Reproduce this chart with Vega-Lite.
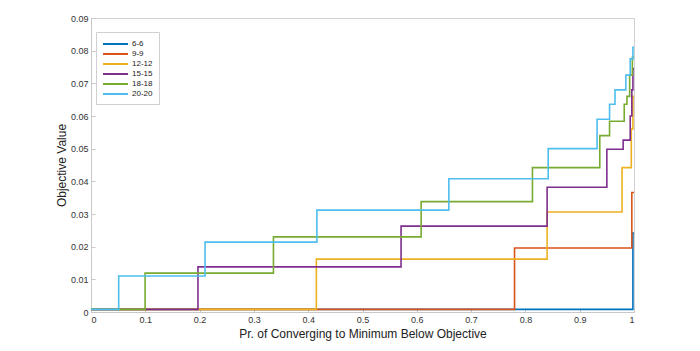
{
  "$schema": "https://vega.github.io/schema/vega-lite/v6.json",
  "width": 543,
  "height": 294,
  "autosize": {"type": "none"},
  "padding": {"left": 91, "top": 18, "right": 66, "bottom": 39},
  "background": "white",
  "config": {
    "view": {"stroke": "#d0d0d0", "strokeWidth": 1},
    "font": "Liberation Sans"
  },
  "data": {
    "values": [
      {"s": "6-6", "x": 0, "y": 0.0008},
      {"s": "6-6", "x": 0.998, "y": 0.0242},
      {"s": "6-6", "x": 1, "y": 0.0242},
      {"s": "9-9", "x": 0, "y": 0.0008},
      {"s": "9-9", "x": 0.78, "y": 0.0196},
      {"s": "9-9", "x": 0.996, "y": 0.0366},
      {"s": "9-9", "x": 1, "y": 0.0366},
      {"s": "12-12", "x": 0, "y": 0.0008},
      {"s": "12-12", "x": 0.415, "y": 0.0162},
      {"s": "12-12", "x": 0.84, "y": 0.0306},
      {"s": "12-12", "x": 0.978, "y": 0.0442},
      {"s": "12-12", "x": 0.995, "y": 0.056},
      {"s": "12-12", "x": 0.998, "y": 0.066},
      {"s": "12-12", "x": 1, "y": 0.066},
      {"s": "15-15", "x": 0, "y": 0.0008},
      {"s": "15-15", "x": 0.197, "y": 0.0138},
      {"s": "15-15", "x": 0.571, "y": 0.0263},
      {"s": "15-15", "x": 0.84, "y": 0.0382},
      {"s": "15-15", "x": 0.95, "y": 0.0498},
      {"s": "15-15", "x": 0.98, "y": 0.0526},
      {"s": "15-15", "x": 0.993, "y": 0.06},
      {"s": "15-15", "x": 0.996, "y": 0.068},
      {"s": "15-15", "x": 0.998, "y": 0.0745},
      {"s": "15-15", "x": 1, "y": 0.0745},
      {"s": "18-18", "x": 0, "y": 0.0008},
      {"s": "18-18", "x": 0.0996, "y": 0.0119},
      {"s": "18-18", "x": 0.336, "y": 0.023},
      {"s": "18-18", "x": 0.608, "y": 0.0338},
      {"s": "18-18", "x": 0.813, "y": 0.0442},
      {"s": "18-18", "x": 0.937, "y": 0.054},
      {"s": "18-18", "x": 0.955, "y": 0.0584},
      {"s": "18-18", "x": 0.982, "y": 0.0636},
      {"s": "18-18", "x": 0.987, "y": 0.066},
      {"s": "18-18", "x": 0.992, "y": 0.0725},
      {"s": "18-18", "x": 0.997, "y": 0.078},
      {"s": "18-18", "x": 1, "y": 0.078},
      {"s": "20-20", "x": 0, "y": 0.0008},
      {"s": "20-20", "x": 0.051, "y": 0.011},
      {"s": "20-20", "x": 0.21, "y": 0.0214},
      {"s": "20-20", "x": 0.416, "y": 0.0312},
      {"s": "20-20", "x": 0.659, "y": 0.0408},
      {"s": "20-20", "x": 0.842, "y": 0.05},
      {"s": "20-20", "x": 0.932, "y": 0.059},
      {"s": "20-20", "x": 0.955, "y": 0.0636},
      {"s": "20-20", "x": 0.965, "y": 0.068},
      {"s": "20-20", "x": 0.985, "y": 0.0725},
      {"s": "20-20", "x": 0.993, "y": 0.0775},
      {"s": "20-20", "x": 0.998, "y": 0.081},
      {"s": "20-20", "x": 1, "y": 0.081}
    ]
  },
  "mark": {"type": "line", "interpolate": "step-after", "strokeWidth": 1.6, "clip": true},
  "encoding": {
    "x": {
      "field": "x", "type": "quantitative",
      "scale": {"domain": [0, 1], "nice": false, "zero": false},
      "axis": {
        "title": "Pr. of Converging to Minimum Below Objective",
        "values": [0, 0.1, 0.2, 0.3, 0.4, 0.5, 0.6, 0.7, 0.8, 0.9, 1],
        "format": "~g", "grid": false,
        "domainColor": "#c8c8c8", "tickColor": "#c8c8c8", "tickSize": -4,
        "labelFontSize": 9, "labelColor": "#333333", "labelPadding": 7,
        "titleFontSize": 12, "titleFontWeight": "normal", "titleColor": "#222222", "titlePadding": 4
      }
    },
    "y": {
      "field": "y", "type": "quantitative",
      "scale": {"domain": [0, 0.09], "nice": false, "zero": false},
      "axis": {
        "title": "Objective Value",
        "values": [0, 0.01, 0.02, 0.03, 0.04, 0.05, 0.06, 0.07, 0.08, 0.09],
        "format": "~g", "grid": false,
        "domainColor": "#c8c8c8", "tickColor": "#c8c8c8", "tickSize": -4,
        "labelFontSize": 9, "labelColor": "#333333", "labelPadding": 7,
        "titleFontSize": 12, "titleFontWeight": "normal", "titleColor": "#222222", "titlePadding": 2
      }
    },
    "color": {
      "field": "s", "type": "nominal",
      "scale": {
        "domain": ["6-6", "9-9", "12-12", "15-15", "18-18", "20-20"],
        "range": ["#0072BD", "#D95319", "#EDB120", "#7E2F8E", "#77AC30", "#4DBEEE"]
      },
      "legend": {
        "title": null,
        "orient": "none", "legendX": 5, "legendY": 14,
        "symbolType": "M-1,0H4", "symbolStrokeWidth": 2, "symbolSize": 100,
        "symbolFillColor": "transparent",
        "labelOffset": 18,
        "labelFontSize": 8, "labelColor": "#222222", "rowPadding": 0,
        "fillColor": "white", "strokeColor": "#d0d0d0", "padding": 6
      }
    }
  }
}
